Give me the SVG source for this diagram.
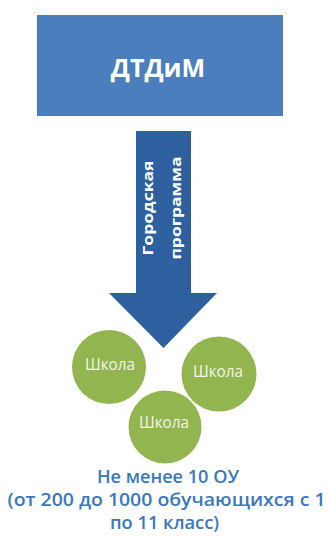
<svg xmlns="http://www.w3.org/2000/svg" width="328" height="537" viewBox="0 0 328 537">
<style>
.lbl{font-family:"Open Sans","Liberation Sans",sans-serif}
.school{fill:#93b550}
.schoolTxt{font-family:"Open Sans","Liberation Sans",sans-serif;font-size:15.5px;fill:#f2f6ea;text-anchor:middle}
.bottom{font-family:"Open Sans","Liberation Sans",sans-serif;font-size:18px;font-weight:600;fill:#3a78bd;text-anchor:middle}
</style>
<rect width="328" height="537" fill="#ffffff"/>
<g id="dtdim">
<rect x="37" y="15" width="246" height="101" fill="#4a7ebd"/>
<text x="158" y="77" class="lbl" font-size="25" font-weight="700" fill="#ffffff" text-anchor="middle">ДТДиМ</text>
</g>
<g id="connectors">
<polygon points="136,131 191,131 191,293 217,293 163.5,348 109,293 136,293" fill="#2e609f"/>
<text transform="translate(153,208) rotate(-90)" class="lbl" font-size="15" font-weight="700" fill="#ffffff" text-anchor="middle" textLength="95" lengthAdjust="spacingAndGlyphs">Городская</text>
<text transform="translate(181,208) rotate(-90)" class="lbl" font-size="15" font-weight="700" fill="#ffffff" text-anchor="middle" textLength="103" lengthAdjust="spacingAndGlyphs">программа</text>
</g>
<g id="school1">
<circle class="school" cx="109" cy="367" r="37"/>
<text class="schoolTxt" x="110" y="370" textLength="50" lengthAdjust="spacingAndGlyphs">Школа</text>
</g>
<g id="school2">
<circle class="school" cx="219" cy="374" r="37.5"/>
<text class="schoolTxt" x="218" y="377" textLength="50" lengthAdjust="spacingAndGlyphs">Школа</text>
</g>
<g id="school3">
<circle class="school" cx="165" cy="427" r="36.5"/>
<text class="schoolTxt" x="164" y="428" textLength="50" lengthAdjust="spacingAndGlyphs">Школа</text>
</g>
<g id="caption">
<text class="bottom" x="168" y="483" textLength="142" lengthAdjust="spacingAndGlyphs">Не менее 10 ОУ</text>
<text class="bottom" x="166.5" y="506" textLength="318" lengthAdjust="spacingAndGlyphs">(от 200 до 1000 обучающихся с 1</text>
<text class="bottom" x="164.5" y="529" textLength="109" lengthAdjust="spacingAndGlyphs">по 11 класс)</text>
</g>
</svg>
